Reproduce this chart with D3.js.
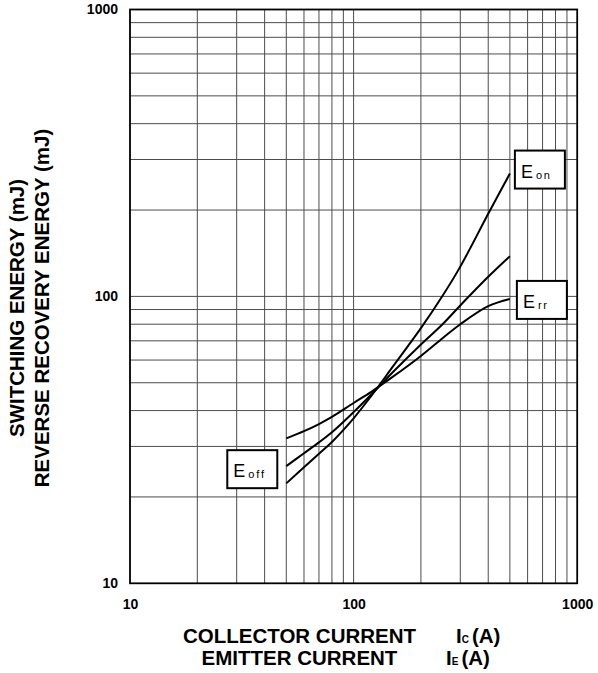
<!DOCTYPE html>
<html>
<head>
<meta charset="utf-8">
<script src="https://cdn.jsdelivr.net/npm/d3@7"></script>
<style>
  html, body { margin: 0; padding: 0; background: #fff; }
  svg { display: block; }
  text { font-family: "Liberation Sans", Arial, sans-serif; }
</style>
</head>
<body>
<svg id="chart" width="598" height="673"></svg>
<script>
// ---- data ----
const xTickValues = [10, 100, 1000];
const yTickValues = [10, 100, 1000];
const currents = [50, 60, 70, 80, 100, 120, 150, 200, 250, 300, 400, 500];
const eon  = [22.3, 25.4, 28.3, 31.1, 37.6, 45, 57, 77.5, 100.5, 127, 194, 268];
const eoff = [25.6, 28.4, 31, 33.6, 39.5, 45.5, 54.5, 68, 80, 93, 117, 138];
const err  = [32, 33.9, 35.9, 38, 42.5, 46.5, 52.5, 62, 71.5, 80, 92.5, 98];
const seriesNames = ["on", "off", "rr"];

// ---- layout ----
const svg = d3.select("#chart");
const pLeft = 130, pRight = 577.2, pTop = 9.5, pBottom = 583.3;
const x = d3.scaleLog().domain([10, 1000]).range([pLeft, pRight]);
const y = d3.scaleLog().domain([10, 1000]).range([pBottom, pTop]);

// minor grid values
const gridVals = [];
for (let d = 10; d < 1000; d *= 10) for (let k = 2; k <= 9; k++) gridVals.push(d * k);
gridVals.push(100);

const grid = svg.append("g");
grid.selectAll("line.v").data(gridVals).enter().append("line")
  .attr("x1", d => x(d)).attr("x2", d => x(d))
  .attr("y1", pTop).attr("y2", pBottom)
  .attr("stroke", "#4d4d4d").attr("stroke-width", 1);
grid.selectAll("line.h").data(gridVals).enter().append("line")
  .attr("y1", d => y(d)).attr("y2", d => y(d))
  .attr("x1", pLeft).attr("x2", pRight)
  .attr("stroke", "#4d4d4d").attr("stroke-width", 1);

// border
svg.append("rect").attr("x", pLeft).attr("y", pTop)
  .attr("width", pRight - pLeft).attr("height", pBottom - pTop)
  .attr("fill", "none").attr("stroke", "#000").attr("stroke-width", 1.8);

// axes tick labels
const xAxis = d3.axisBottom(x).tickValues(xTickValues).tickFormat(d3.format("d")).tickSize(0).tickPadding(16);
const gx = svg.append("g").attr("transform", `translate(0,${pBottom})`).call(xAxis);
gx.select(".domain").remove();
gx.selectAll("text").attr("font-size", 14).attr("font-weight", "bold")
  .attr("font-family", "'Liberation Sans', Arial, sans-serif").attr("fill", "#000");

const yAxis = d3.axisLeft(y).tickValues(yTickValues).tickFormat(d3.format("d")).tickSize(0).tickPadding(12);
const gy = svg.append("g").attr("transform", `translate(${pLeft},0)`).call(yAxis);
gy.select(".domain").remove();
gy.selectAll("text").attr("font-size", 14).attr("font-weight", "bold")
  .attr("font-family", "'Liberation Sans', Arial, sans-serif").attr("fill", "#000");

// curves
const line = d3.line().x(d => x(d[0])).y(d => y(d[1])).curve(d3.curveCatmullRom.alpha(0.5));
[eon, eoff, err].forEach(vals => {
  svg.append("path")
    .datum(currents.map((c, i) => [c, vals[i]]))
    .attr("d", line)
    .attr("fill", "none").attr("stroke", "#000").attr("stroke-width", 2);
});

// labels
function label(bx, by, sub) {
  const w = 50, h = 38;
  const g = svg.append("g").attr("transform", `translate(${bx},${by})`);
  g.append("rect").attr("width", w).attr("height", h)
    .attr("fill", "#fff").attr("stroke", "#000").attr("stroke-width", 2);
  const t = g.append("text").attr("x", 6).attr("y", 27).attr("font-size", 18).attr("fill", "#000");
  t.append("tspan").text("E");
  t.append("tspan").attr("dx", 3).attr("dy", 1).attr("font-size", 11).attr("letter-spacing", 1.8).text(sub);
}
const lastX = x(currents[currents.length - 1]);
label(lastX + 5, y(eon[eon.length - 1]) - 23, seriesNames[0]);
label(lastX + 7, y(err[err.length - 1]) - 18, seriesNames[2]);
label(x(currents[0]) - 59, y(eoff[0]) - 16, seriesNames[1]);

// y axis titles
const yTitle = svg.append("g");
yTitle.append("text").attr("transform", "translate(24,308) rotate(-90)")
  .attr("text-anchor", "middle").attr("font-size", 20.5).attr("font-weight", "bold")
  .text("SWITCHING ENERGY (mJ)");
yTitle.append("text").attr("transform", "translate(49,308) rotate(-90)")
  .attr("text-anchor", "middle").attr("font-size", 20.5).attr("font-weight", "bold")
  .text("REVERSE RECOVERY ENERGY (mJ)");

// x axis titles
function xTitle(mainText, mx, ix, sub, baseline) {
  svg.append("text").attr("x", mx).attr("y", baseline)
    .attr("font-size", 20.5).attr("font-weight", "bold").text(mainText);
  const t = svg.append("text").attr("x", ix).attr("y", baseline)
    .attr("font-size", 20.5).attr("font-weight", "bold");
  t.append("tspan").text("I");
  t.append("tspan").attr("font-size", 10).text(sub);
  t.append("tspan").attr("dx", 3).text("(A)");
}
xTitle("COLLECTOR CURRENT", 183, 456, "C", 643);
xTitle("EMITTER CURRENT", 201.5, 446, "E", 665);
</script>
</body>
</html>
